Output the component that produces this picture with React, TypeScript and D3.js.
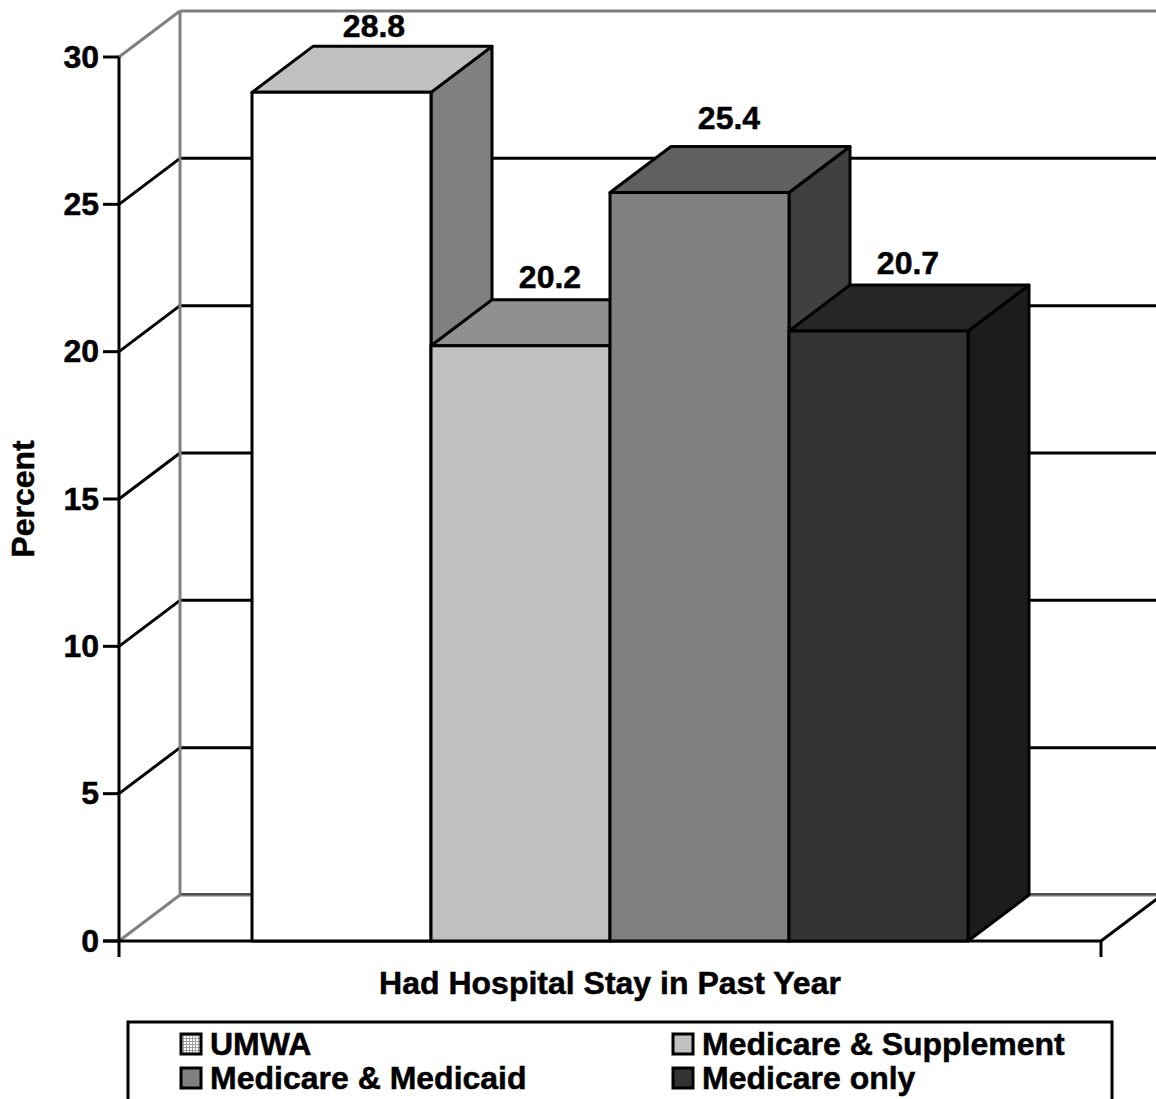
import React from "react";
import * as d3 from "d3";

const categories = ["UMWA", "Medicare & Supplement", "Medicare & Medicaid", "Medicare only"];
const values = [28.8, 20.2, 25.4, 20.7];
const valueLabels = ["28.8", "20.2", "25.4", "20.7"];
const frontColors = ["#ffffff", "#c0c0c0", "#808080", "#333333"];
const topColors = ["#c0c0c0", "#909090", "#606060", "#262626"];
const sideColors = ["#808080", "#6c6c6c", "#404040", "#1c1c1c"];
const swatchColors = ["url(#umwaGrid)", "#c0c0c0", "#808080", "#333333"];
const yTicks = [0, 5, 10, 15, 20, 25, 30];
const xTitle = "Had Hospital Stay in Past Year";
const yTitle = "Percent";

const labelGap = [9.5, 12, 18, 11];
const labelShift = [0, -3, -3, -3];

const FONT = "'Liberation Sans', Arial, sans-serif";
const DX = 61;
const DY = -46;
const SW = 3;

export default function App() {
  const y = d3.scaleLinear().domain([0, 30]).range([941, 57]);
  const x = d3.scaleBand().domain(categories).range([252, 968]).padding(0);
  const xL = 119;
  const xR = 1101;
  const bw = x.bandwidth();
  const pts = (p: number[][]) => p.map((q) => q.join(",")).join(" ");
  const textProps = { fontSize: 32, stroke: "#000", strokeWidth: 0.5 };

  return (
    <svg width={1156} height={1099} style={{ position: "absolute", left: 0, top: 0, background: "#fff" }} fontFamily={FONT} fontWeight="bold">
      <defs>
        <pattern id="umwaGrid" width={3} height={3} patternUnits="userSpaceOnUse">
          <rect width={3} height={3} fill="#fff" />
          <path d="M0 0.5H3M0.5 0V3" stroke="#a0a0a0" strokeWidth={1} />
        </pattern>
      </defs>

      {/* back wall gridlines */}
      {yTicks.map((t) => (
        <line key={"g" + t} x1={xL + DX} x2={1170} y1={y(t) + DY} y2={y(t) + DY}
          stroke={t === 30 || t === 0 ? "#808080" : "#000"} strokeWidth={SW} />
      ))}
      <line x1={xL + DX} x2={1170} y1={y(0) + DY - 1} y2={y(0) + DY - 1} stroke="#333" strokeWidth={1.5} />
      {/* left wall diagonals */}
      {yTicks.map((t) => (
        <line key={"d" + t} x1={xL} y1={y(t)} x2={xL + DX} y2={y(t) + DY}
          stroke={t === 0 || t === 30 ? "#808080" : "#000"} strokeWidth={SW} />
      ))}
      <line x1={xL + DX} x2={xL + DX} y1={y(30) + DY} y2={y(0) + DY} stroke="#808080" strokeWidth={SW} />
      {/* floor right edge */}
      <line x1={xR} y1={y(0)} x2={xR + DX} y2={y(0) + DY} stroke="#000" strokeWidth={SW} />

      {/* axes */}
      <line x1={xL} x2={xL} y1={y(30)} y2={957} stroke="#000" strokeWidth={SW} />
      <line x1={xR} x2={xR} y1={y(0)} y2={957} stroke="#000" strokeWidth={SW} />
      <line x1={103} x2={xR} y1={y(0)} y2={y(0)} stroke="#000" strokeWidth={SW} />
      {yTicks.map((t) => (
        <g key={"t" + t}>
          <line x1={103} x2={xL} y1={y(t)} y2={y(t)} stroke="#000" strokeWidth={SW} />
          <text x={99} y={y(t) + 10.5} textAnchor="end" {...textProps}>{t}</text>
        </g>
      ))}

      {/* bars */}
      {categories.map((c, i) => {
        const x0 = x(c)!;
        const x1 = x0 + bw;
        const yT = y(values[i]);
        const yB = y(0);
        return (
          <g key={c} stroke="#000" strokeWidth={SW} strokeLinejoin="round">
            <polygon points={pts([[x1, yT], [x1 + DX, yT + DY], [x1 + DX, yB + DY], [x1, yB]])} fill={sideColors[i]} />
            <polygon points={pts([[x0, yT], [x0 + DX, yT + DY], [x1 + DX, yT + DY], [x1, yT]])} fill={topColors[i]} />
            <rect x={x0} y={yT} width={bw} height={yB - yT} fill={frontColors[i]} />
          </g>
        );
      })}

      {/* value labels */}
      {categories.map((c, i) => (
        <text key={"v" + c} x={x(c)! + bw / 2 + DX / 2 + 2 + labelShift[i]} y={y(values[i]) + DY - labelGap[i]} textAnchor="middle" {...textProps}>
          {valueLabels[i]}
        </text>
      ))}

      <text x={610} y={994} textAnchor="middle" {...textProps}>{xTitle}</text>
      <text transform="translate(34,499) rotate(-90)" textAnchor="middle" {...textProps}>{yTitle}</text>

      {/* legend */}
      <rect x={128} y={1022} width={984} height={100} fill="#fff" stroke="#000" strokeWidth={SW} />
      {categories.map((c, i) => {
        const lx = i % 2 === 0 ? 181 : 673;
        const ly = i < 2 ? 1034 : 1068;
        return (
          <g key={"l" + c}>
            <rect x={lx} y={ly} width={20} height={20} fill={swatchColors[i]} stroke="#000" strokeWidth={SW} />
            <text x={lx + 29} y={ly + 21} {...textProps}>{c}</text>
          </g>
        );
      })}
    </svg>
  );
}
